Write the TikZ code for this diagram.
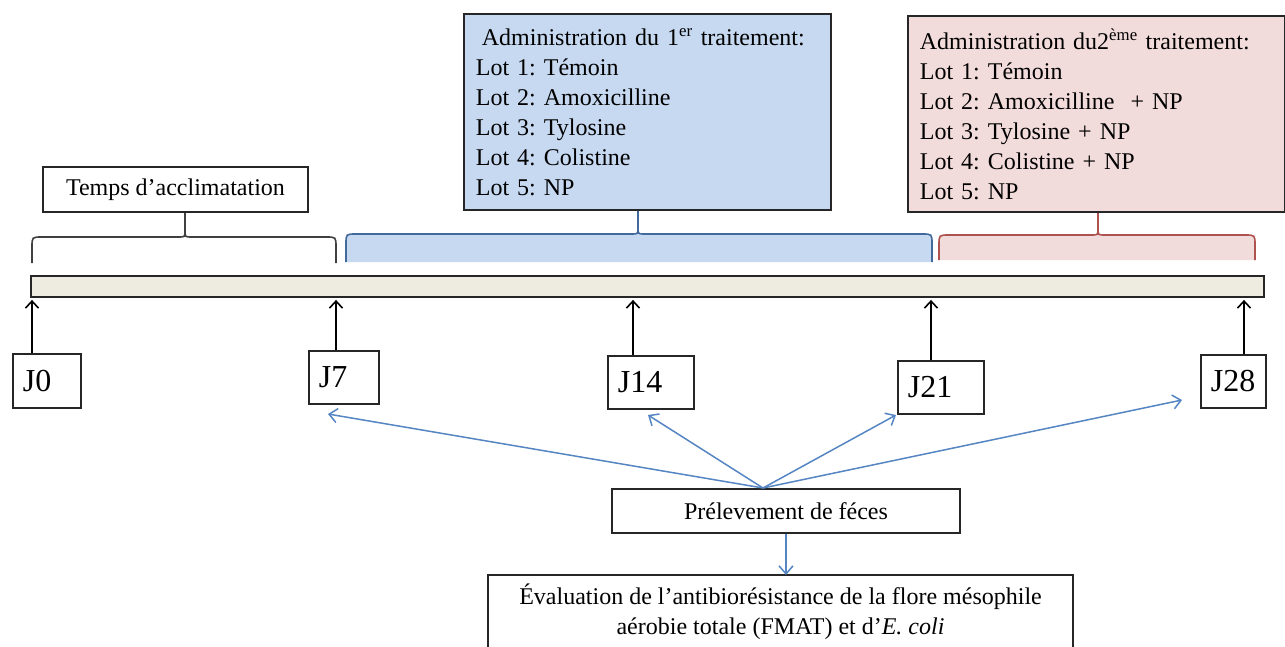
\documentclass[tikz,border=0pt]{standalone}
\usepackage{fontspec}
\setmainfont{Liberation Serif}
\usetikzlibrary{arrows.meta}
\definecolor{barfill}{HTML}{EEECE1}
\definecolor{bluefill}{HTML}{C6D9F1}
\definecolor{blueline}{HTML}{41699B}
\definecolor{redfill}{HTML}{F2DCDB}
\definecolor{redline}{HTML}{AE5250}
\definecolor{arrowblue}{HTML}{5585C2}
\frenchspacing

\begin{document}
\begin{tikzpicture}[x=1pt,y=-1pt,
    box/.style={draw=black!85,line width=1.8pt,inner sep=0pt},
    lotbox/.style={box,anchor=north west,align=left,inner xsep=12pt,
        font=\fontsize{24}{30}\selectfont},
    jbox/.style={box,anchor=north west,align=left,inner xsep=10pt,
        font=\fontsize{32}{36}\selectfont},
    jarrow/.style={-{Straight Barb[length=7pt,width=13pt,line width=1.6pt]},line width=1.8pt},
    bluearrow/.style={-{Straight Barb[length=8pt,width=14pt,line width=1.5pt]},draw=arrowblue,line width=1.5pt}]
    \useasboundingbox (0,0) rectangle (1285,646);

    % Braces over the time line
    \foreach \l/\r/\c/\t/\b/\ct/\fc/\lc in {32/336/185/237/263/212/white/black!75,
        346/932/638/234/262/209/bluefill/blueline,
        939/1255/1098/235/260/211/redfill/redline}{
        \fill[\fc] (\l,\b) -- (\l,\t+10) .. controls (\l,\t) .. (\l+10,\t)
            -- (\r-10,\t) .. controls (\r,\t) .. (\r,\t+10) -- (\r,\b) -- cycle;
        \draw[\lc,line width=1.6pt] (\l,\b) -- (\l,\t+10) .. controls (\l,\t) .. (\l+10,\t)
            -- (\c-6,\t) .. controls (\c,\t) .. (\c,\t-7) -- (\c,\ct)
            -- (\c,\t-7) .. controls (\c,\t) .. (\c+6,\t)
            -- (\r-10,\t) .. controls (\r,\t) .. (\r,\t+10) -- (\r,\b);
    }

    % Boxes above the time line
    \node[box,minimum width=265pt,minimum height=45pt,font=\fontsize{24}{30}\selectfont]
        (temps) at (175.5,189.5) {Temps d’acclimatation};
    \node[lotbox,fill=bluefill,text width=343pt,minimum height=196pt] (trait1) at (463,13)
        {\hspace*{6pt}Administration du 1\textsuperscript{er} traitement:\\
         Lot 1: Témoin\\ Lot 2: Amoxicilline\\ Lot 3: Tylosine\\ Lot 4: Colistine\\ Lot 5: NP};
    \node[lotbox,fill=redfill,text width=353pt,minimum height=196pt] (trait2) at (907,15)
        {Administration du2\textsuperscript{ème} traitement:\\
         Lot 1: Témoin\\ Lot 2: Amoxicilline ~+ NP\\ Lot 3: Tylosine + NP\\ Lot 4: Colistine + NP\\ Lot 5: NP};

    % Time line
    \node[box,fill=barfill,minimum width=1233pt,minimum height=21pt] (bar) at (647.5,286.5) {};

    % Days
    \node[jbox,text width=48pt,minimum height=54pt] (j0) at (12,353) {J0};
    \node[jbox,text width=50pt,minimum height=53pt] (j7) at (308,350) {J7};
    \node[jbox,text width=66pt,minimum height=53pt] (j14) at (607,355) {J14};
    \node[jbox,text width=66pt,minimum height=53pt] (j21) at (897,360) {J21};
    \node[jbox,text width=45pt,minimum height=53pt] (j28) at (1200,354) {J28};
    \foreach \j/\dx in {j0/20,j7/28,j14/26,j21/34,j28/44}{
        \coordinate (a\j) at ([xshift=\dx pt]\j.north west);
        \draw[jarrow] (a\j) -- ([yshift=-2pt]a\j |- bar.south);
    }

    % Sampling
    \node[box,minimum width=348pt,minimum height=44pt,font=\fontsize{24}{30}\selectfont]
        (prelev) at (786,511) {Prélevement de féces};
    \node[box,anchor=north,minimum width=585pt,inner ysep=9pt,align=center,
        font=\fontsize{24}{30}\selectfont] (evaluation) at (780.5,574)
        {Évaluation de l’antibiorésistance de la flore mésophile\\
         aérobie totale (FMAT) et d’\textit{E. coli}\\ ~\\ ~};

    \coordinate (src) at (763,488);
    \coordinate (t7) at (328,414);
    \coordinate (t14) at (648,415);
    \coordinate (t21) at (896,415);
    \coordinate (t28) at (1182,400);
    \foreach \t in {t7,t14,t21,t28}
        \draw[bluearrow] (src) -- (\t);
    \draw[bluearrow] (prelev.south) -- ([yshift=-1pt]prelev.south |- evaluation.north);
\end{tikzpicture}
\end{document}
